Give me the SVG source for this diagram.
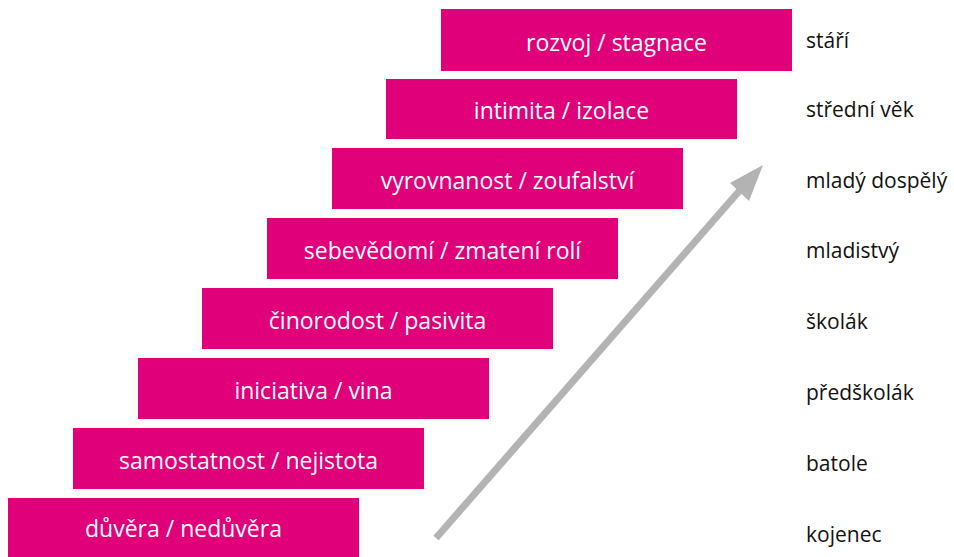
<svg xmlns="http://www.w3.org/2000/svg" width="954" height="557" viewBox="0 0 954 557">
<style>
.box{fill:#E0007A}
.bt{fill:#fff;font-family:"Open Sans","Noto Sans","DejaVu Sans",sans-serif;font-size:23px;text-anchor:middle;dominant-baseline:central}
.lb{fill:#111;font-family:"Open Sans","Noto Sans","DejaVu Sans",sans-serif;font-size:21px;dominant-baseline:central}
</style>
<rect width="954" height="557" fill="#fff"/>
<g id="n8"><rect class="box" x="8" y="498" width="351" height="59"/><text class="bt" x="183.5" y="528">důvěra / nedůvěra</text></g>
<g id="n7"><rect class="box" x="73" y="428" width="351" height="61"/><text class="bt" x="248.5" y="460">samostatnost / nejistota</text></g>
<g id="n6"><rect class="box" x="138" y="358" width="351" height="61"/><text class="bt" x="313.5" y="390">iniciativa / vina</text></g>
<g id="n5"><rect class="box" x="202" y="288" width="351" height="61"/><text class="bt" x="377.5" y="320">činorodost / pasivita</text></g>
<g id="n4"><rect class="box" x="267" y="218" width="351" height="61"/><text class="bt" x="442.5" y="250">sebevědomí / zmatení rolí</text></g>
<g id="n3"><rect class="box" x="332" y="148" width="351" height="61"/><text class="bt" x="507.5" y="180">vyrovnanost / zoufalství</text></g>
<g id="n2"><rect class="box" x="386" y="79" width="351" height="60"/><text class="bt" x="561.5" y="110">intimita / izolace</text></g>
<g id="n1"><rect class="box" x="441" y="9" width="351" height="62"/><text class="bt" x="616.5" y="42">rozvoj / stagnace</text></g>
<g id="labels">
<text class="lb" x="806" y="40">stáří</text>
<text class="lb" x="806" y="109">střední věk</text>
<text class="lb" x="806" y="180">mladý dospělý</text>
<text class="lb" x="806" y="250">mladistvý</text>
<text class="lb" x="806" y="321">školák</text>
<text class="lb" x="806" y="392">předškolák</text>
<text class="lb" x="806" y="463">batole</text>
<text class="lb" x="806" y="534">kojenec</text>
</g>
<g id="connectors">
<line x1="436" y1="538" x2="741" y2="189" stroke="#B3B3B3" stroke-width="7"/>
<polygon points="763,165 749,201 730,183" fill="#B3B3B3"/>
</g>
</svg>
